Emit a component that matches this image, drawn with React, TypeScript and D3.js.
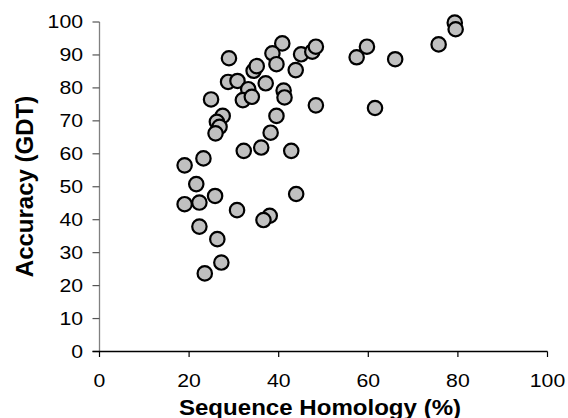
import * as d3 from "d3";

// sequence homology (%) vs accuracy (GDT)
const homology = [
  28.9, 40.8, 38.6, 39.5, 45.0, 47.5, 48.3, 43.8, 34.4, 35.1,
  28.7, 30.8, 37.1, 33.2, 32.0, 34.0, 41.1, 41.3, 24.9, 48.3,
  57.4, 59.7, 61.5, 27.5, 26.2, 26.8, 25.9, 39.5, 38.2, 32.2,
  36.1, 42.8, 23.2, 19.0, 21.6, 25.8, 19.0, 22.3, 30.7, 38.0,
  36.6, 43.9, 22.3, 26.3, 27.2, 23.5, 79.3, 79.5, 75.7, 66.0,
];
const accuracy = [
  89.0, 93.5, 90.5, 87.2, 90.2, 91.0, 92.5, 85.4, 85.2, 86.6,
  81.8, 82.1, 81.4, 79.6, 76.3, 77.3, 79.2, 77.1, 76.5, 74.7,
  89.3, 92.5, 73.9, 71.5, 69.7, 68.2, 66.2, 71.5, 66.4, 60.9,
  61.9, 60.9, 58.6, 56.5, 50.8, 47.2, 44.7, 45.2, 42.9, 41.2,
  39.9, 47.8, 37.9, 34.1, 27.0, 23.7, 99.8, 97.8, 93.2, 88.7,
];
const xTicks = [0, 20, 40, 60, 80, 100];
const yTicks = [0, 10, 20, 30, 40, 50, 60, 70, 80, 90, 100];

const W = 568;
const H = 418;
const font = "'Liberation Sans', Arial, sans-serif";

export default function App() {
  const x = d3.scaleLinear().domain([0, 100]).range([99.5, 547.5]);
  const y = d3.scaleLinear().domain([0, 100]).range([351.5, 22]);
  const points = homology.map((h, i) => ({ h, a: accuracy[i] }));

  return (
    <svg
      width={W}
      height={H}
      style={{ position: "absolute", left: 0, top: 0, background: "#fff" }}
    >
      {/* y axis */}
      <line x1={x(0)} x2={x(0)} y1={y(0)} y2={y(100)} stroke="#808080" strokeWidth={1.3} />
      {yTicks.map((t) => (
        <g key={"y" + t}>
          <line x1={x(0) - 7} x2={x(0)} y1={y(t)} y2={y(t)} stroke="#555" strokeWidth={1.2} />
          <g transform={`translate(${x(0) - 16.5},${y(t) + 6.4}) scale(1.18,1)`}>
            <text textAnchor="end" fontFamily={font} fontSize={18} fill="#000">
              {t}
            </text>
          </g>
        </g>
      ))}

      {/* x axis */}
      <line x1={x(0) - 7} x2={x(100)} y1={y(0)} y2={y(0)} stroke="#000" strokeWidth={1.3} />
      {xTicks.map((t) => (
        <g key={"x" + t}>
          <line x1={x(t)} x2={x(t)} y1={y(0)} y2={y(0) + 5.5} stroke="#000" strokeWidth={1.2} />
          <g transform={`translate(${x(t)},387.3) scale(1.18,1)`}>
            <text textAnchor="middle" fontFamily={font} fontSize={18} fill="#000">
              {t}
            </text>
          </g>
        </g>
      ))}

      {/* points */}
      {points.map((p, i) => (
        <circle
          key={i}
          cx={x(p.h)}
          cy={y(p.a)}
          r={7.2}
          fill="#c0c0c0"
          stroke="#000"
          strokeWidth={2.2}
        />
      ))}

      {/* axis titles */}
      <g transform="translate(320,414.5) scale(1.12,1)">
        <text textAnchor="middle" fontFamily={font} fontSize={21.5} fontWeight="bold">
          Sequence Homology (%)
        </text>
      </g>
      <text
        transform="translate(32.5,186.5) rotate(-90)"
        textAnchor="middle"
        fontFamily={font}
        fontSize={24}
        fontWeight="bold"
      >
        Accuracy (GDT)
      </text>
    </svg>
  );
}
